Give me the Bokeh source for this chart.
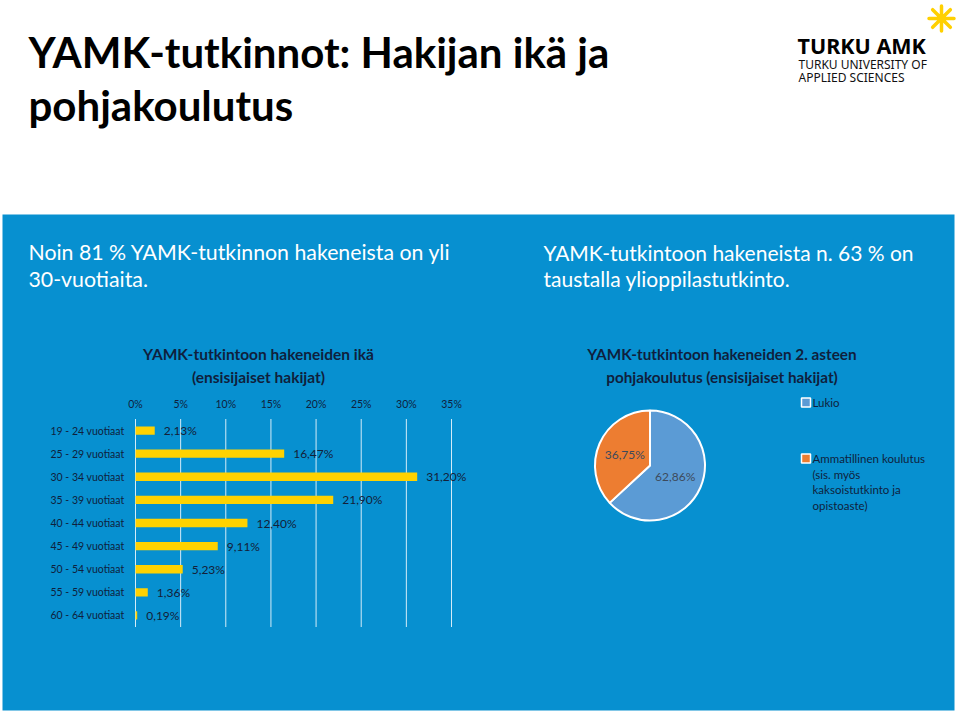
import numpy as np
from bokeh.plotting import figure
from bokeh.models import Range1d
from bokeh.core.properties import value
from bokeh.embed import file_html
from bokeh.resources import INLINE

# ---------------- data ----------------
age_groups = ["19 - 24 vuotiaat", "25 - 29 vuotiaat", "30 - 34 vuotiaat",
              "35 - 39 vuotiaat", "40 - 44 vuotiaat", "45 - 49 vuotiaat",
              "50 - 54 vuotiaat", "55 - 59 vuotiaat", "60 - 64 vuotiaat"]
age_shares = [2.13, 16.47, 31.20, 21.90, 12.40, 9.11, 5.23, 1.36, 0.19]
pct_ticks = [0, 5, 10, 15, 20, 25, 30, 35]

edu_labels = ["Lukio", "Ammatillinen koulutus"]
edu_legend_extra = ["(sis. myös", "kaksoistutkinto ja", "opistoaste)"]
edu_shares = [62.86, 36.75]

title_lines = ["YAMK-tutkinnot: Hakijan ikä ja", "pohjakoulutus"]
left_note = ["Noin 81 % YAMK-tutkinnon hakeneista on yli", "30-vuotiaita."]
right_note = ["YAMK-tutkintoon hakeneista n. 63 % on", "taustalla ylioppilastutkinto."]
bar_title = ["YAMK-tutkintoon hakeneiden ikä", "(ensisijaiset hakijat)"]
pie_title = ["YAMK-tutkintoon hakeneiden 2. asteen", "pohjakoulutus (ensisijaiset hakijat)"]
logo_lines = ["TURKU AMK", "TURKU UNIVERSITY OF", "APPLIED SCIENCES"]

# ---------------- styles ----------------
BLUE = "#0790d0"
NAVY = "#0f1f3d"
YELLOW = "#ffd200"
PIE_COLORS = ["#5b9bd5", "#ed7d31"]
BODY_FONT = value("Lato")
TITLE_FONT = value("Lato")
LOGO_FONT = value("Noto Sans")

W, H = 960, 715
p = figure(width=W, height=H, x_range=Range1d(0, W), y_range=Range1d(H, 0),
           output_backend="svg", toolbar_location=None, min_border=0,
           x_axis_location=None, y_axis_location=None,
           outline_line_color=None, background_fill_color="white",
           border_fill_color="white")
p.grid.visible = False

# blue panel
p.quad(left=2, right=954, top=214, bottom=710, fill_color=BLUE, line_color=None)

# page title
p.text(x=[28, 28], y=[51, 104], text=title_lines, text_font=TITLE_FONT,
       text_font_style="bold", text_font_size="42px", text_color="#000000",
       text_baseline="middle")

# logo
p.scatter(x=[941], y=[18], marker="asterisk", size=25, line_color="#ffd000",
          line_width=3.5, line_cap="round")
p.text(x=[797], y=[44.5], text=[logo_lines[0]], text_font=LOGO_FONT,
       text_font_style="bold", text_font_size="21.5px", text_color="#000000",
       text_baseline="middle")
p.text(x=[798, 798], y=[63.5, 76.5], text=logo_lines[1:], text_font=LOGO_FONT,
       text_font_size="12px", text_color="#111111", text_baseline="middle")

# notes
p.text(x=[28, 28], y=[251, 278], text=left_note, text_font=BODY_FONT,
       text_font_size="21.3px", text_color="white", text_baseline="middle")
p.text(x=[543, 543], y=[252, 278], text=right_note, text_font=BODY_FONT,
       text_font_size="21px", text_color="white", text_baseline="middle")

# ---------------- bar chart ----------------
p.text(x=[258, 258], y=[353, 376], text=bar_title, text_font=BODY_FONT,
       text_font_style="bold", text_font_size="15.5px", text_color=NAVY,
       text_align="center", text_baseline="middle")

n = len(age_groups)
idx = list(range(n))
bars = p.subplot(x_source=Range1d(0, 35), y_source=Range1d(-0.5, n - 0.5),
                 x_target=Range1d(135, 451), y_target=Range1d(418.5, 626.5))

bars.segment(x0=pct_ticks, y0=[-0.5] * len(pct_ticks), x1=pct_ticks,
             y1=[n - 0.5] * len(pct_ticks), line_color="#d4ecf8", line_width=1)
bars.hbar(y=idx, left=0, right=age_shares, height=0.36, fill_color=YELLOW,
          line_color=None)
bars.text(x=pct_ticks, y=[-1.17] * len(pct_ticks), text=[f"{t}%" for t in pct_ticks],
          text_font=BODY_FONT, text_font_size="10.5px", text_color=NAVY,
          text_align="center", text_baseline="middle")
bars.text(x=[0] * n, y=idx, text=age_groups, x_offset=-11, text_font=BODY_FONT,
          text_font_size="10.5px", text_color=NAVY, text_align="right",
          text_baseline="middle")
bars.text(x=age_shares, y=idx, text=[f"{v:.2f}%".replace(".", ",") for v in age_shares],
          x_offset=9, text_font=BODY_FONT, text_font_size="12px", text_color="#142038",
          text_align="left", text_baseline="middle")

# ---------------- pie chart ----------------
p.text(x=[721.5, 721.5], y=[353, 376], text=pie_title, text_font=BODY_FONT,
       text_font_style="bold", text_font_size="15.3px", text_color=NAVY,
       text_align="center", text_baseline="middle")

shares = np.array(edu_shares)
frac = shares / shares.sum()
cum = np.concatenate([[0.0], np.cumsum(frac)])
start = np.pi / 2 - 2 * np.pi * cum[:-1]
end = np.pi / 2 - 2 * np.pi * cum[1:]
cx, cy, r = 649.5, 465.0, 55.0
p.wedge(x=[cx] * len(shares), y=[cy] * len(shares), radius=r,
        start_angle=start, end_angle=end, direction="clock",
        fill_color=PIE_COLORS, line_color="white", line_width=2)
mid = (start + end) / 2
p.text(x=cx + 0.5 * r * np.cos(mid), y=cy - 0.5 * r * np.sin(mid),
       text=[f"{v:.2f}%".replace(".", ",") for v in edu_shares],
       text_font=BODY_FONT, text_font_size="12px", text_color="#3d4a5c",
       text_align="center", text_baseline="middle")

# legend
p.scatter(x=[805.5, 805.5], y=[402, 458], marker="square", size=9,
          fill_color=PIE_COLORS, line_color="white", line_width=1.5)
p.text(x=[812, 812], y=[402, 458], text=edu_labels, text_font=BODY_FONT,
       text_font_size="11.5px", text_color=NAVY, text_baseline="middle")
p.text(x=[812] * 3, y=[473.5, 489, 504.5], text=edu_legend_extra, text_font=BODY_FONT,
       text_font_size="11.5px", text_color=NAVY, text_baseline="middle")

open("out.html", "w").write(file_html(p, INLINE))
